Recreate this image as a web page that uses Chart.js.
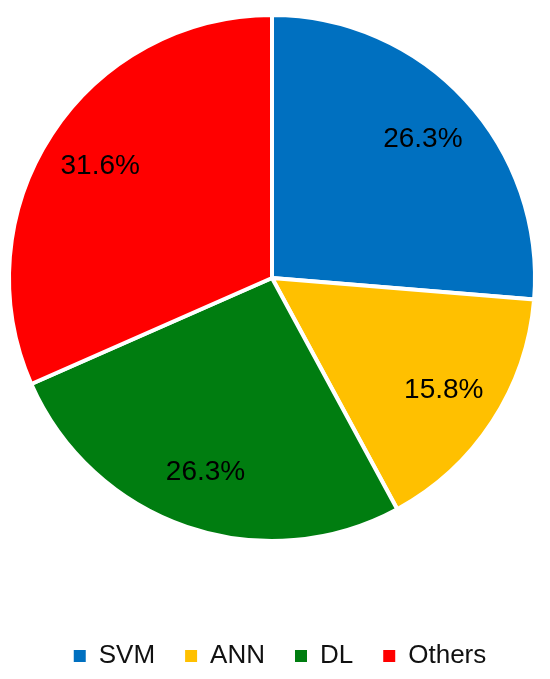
<!DOCTYPE html>
<html>
<head>
<meta charset="utf-8">
<script src="https://cdn.jsdelivr.net/npm/chart.js@4"></script>
<style>
  html, body { margin: 0; padding: 0; background: #fff; }
  canvas { display: block; }
</style>
</head>
<body>
<canvas id="pieChart" width="550" height="679"></canvas>
<script>
const categories = ["SVM", "ANN", "DL", "Others"];
const shares = [26.3, 15.8, 26.3, 31.6];
const sliceColors = ["#0070C0", "#FFC000", "#007D10", "#FF0000"];

// percentage labels inside each slice, placed along the slice's mid angle
const sliceLabels = {
  id: "sliceLabels",
  afterDatasetsDraw(chart) {
    const ctx = chart.ctx;
    const meta = chart.getDatasetMeta(0);
    ctx.save();
    ctx.font = "28px 'Liberation Sans', Arial, sans-serif";
    ctx.fillStyle = "#000";
    ctx.textAlign = "center";
    ctx.textBaseline = "middle";
    meta.data.forEach((arc, i) => {
      const p = arc.getProps(["x", "y", "startAngle", "endAngle", "outerRadius"], true);
      const mid = (p.startAngle + p.endAngle) / 2;
      const r = p.outerRadius * 0.78;
      ctx.fillText(shares[i].toFixed(1) + "%", p.x + Math.cos(mid) * r, p.y + Math.sin(mid) * r);
    });
    ctx.restore();
  },
};

// the legend row sits a little right of the pie's centre in the original
const legendShift = {
  id: "legendShift",
  afterLayout(chart) {
    chart.legend.left += 8;
    chart.legend.right += 8;
  },
};

const ctx = document.getElementById("pieChart").getContext("2d");
new Chart(ctx, {
  type: "pie",
  data: {
    labels: categories,
    datasets: [
      {
        data: shares,
        backgroundColor: sliceColors,
        borderColor: "#fff",
        borderWidth: 4,
      },
    ],
  },
  options: {
    responsive: false,
    maintainAspectRatio: false,
    animation: false,
    layout: { padding: { top: 13, left: 7, right: 13, bottom: 0 } },
    plugins: {
      tooltip: { enabled: false },
      legend: {
        position: "bottom",
        title: { display: true, text: "", font: { size: 10 }, padding: { top: 58, bottom: 0 } },
        labels: {
          boxWidth: 12,
          boxHeight: 12,
          padding: 30,
          color: "#111",
          font: { size: 26, family: "'Liberation Sans', Arial, sans-serif" },
          generateLabels(chart) {
            const items = Chart.overrides.pie.plugins.legend.labels.generateLabels(chart);
            return items.map((item) => ({ ...item, lineWidth: 0 }));
          },
        },
      },
    },
  },
  plugins: [sliceLabels, legendShift],
});
</script>
</body>
</html>
